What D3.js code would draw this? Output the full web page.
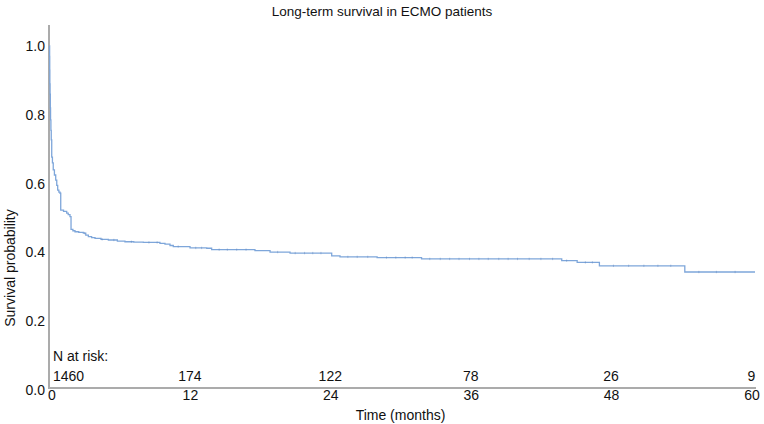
<!DOCTYPE html>
<html>
<head>
<meta charset="utf-8">
<script src="https://cdn.jsdelivr.net/npm/d3@7"></script>
<style>
  html, body { margin: 0; padding: 0; background: #fff; }
  svg text { font-family: "Liberation Sans", Arial, Helvetica, sans-serif; fill: #111; }
</style>
</head>
<body>
<svg id="chart" width="764" height="424"></svg>
<script>
// ---- Data ----
const times = [0, 0.01, 0.02, 0.03, 0.05, 0.07, 0.09, 0.12, 0.15, 0.19, 0.25, 0.32, 0.42, 0.53, 0.62, 0.70, 0.80, 0.90, 0.96, 1.2, 1.47, 1.6, 1.75, 1.84, 2.0, 2.18, 2.5, 2.89, 3.1, 3.32, 3.6, 3.89, 4.4, 5.03, 5.8, 6.45, 7.2, 8.02, 9.44, 9.87, 10.3, 10.58, 12.01, 13.44, 13.86, 17.56, 18.85, 20.56, 24.12, 24.83, 28.0, 31.8, 43.78, 45.1, 47.0, 54.3];
const survival = [1.0, 0.97, 0.93, 0.89, 0.86, 0.82, 0.785, 0.755, 0.727, 0.677, 0.66, 0.64, 0.625, 0.61, 0.595, 0.581, 0.575, 0.572, 0.523, 0.519, 0.514, 0.51, 0.504, 0.467, 0.463, 0.460, 0.458, 0.456, 0.45, 0.446, 0.443, 0.441, 0.438, 0.436, 0.433, 0.431, 0.43, 0.429, 0.426, 0.424, 0.42, 0.417, 0.413, 0.412, 0.408, 0.405, 0.401, 0.398, 0.390, 0.387, 0.385, 0.381, 0.376, 0.371, 0.361, 0.343];
const endTime = 60.3;
const censorTimes = [3.0, 4.5, 5.5, 7.0, 8.5, 9.2, 11.0, 12.5, 13.0, 14.5, 15.2, 16.0, 16.8, 19.5, 21.0, 21.8, 22.5, 23.2, 25.5, 26.3, 27.2, 28.8, 29.6, 30.4, 31.0, 32.5, 33.4, 34.2, 35.0, 35.9, 36.7, 37.5, 38.4, 39.2, 40.0, 41.0, 42.0, 43.0, 44.2, 45.8, 46.4, 48.2, 49.5, 50.8, 52.0, 53.1, 55.5, 57.0, 58.6];
const xTicks = [0, 12, 24, 36, 48, 60];
const yTicks = [0.0, 0.2, 0.4, 0.6, 0.8, 1.0];
const atRisk = [1460, 174, 122, 78, 26, 9];
const titleText = "Long-term survival in ECMO patients";
const xLabel = "Time (months)";
const yLabel = "Survival probability";

// ---- Layout ----
const svg = d3.select("#chart");
const x = d3.scaleLinear().domain([0, 60]).range([49.5, 751.5]);
const y = d3.scaleLinear().domain([0, 1]).range([390, 46]);
const axisColor = "#ababab";
const curveColor = "#7ea6da";

// Title
svg.append("text").attr("x", 382).attr("y", 11).attr("text-anchor", "middle")
  .attr("dominant-baseline", "central").style("font-size", "13.5px").text(titleText);

// Axes lines
const xAxisY = 388;
svg.append("line").attr("x1", 48).attr("x2", x(endTime) + 1).attr("y1", xAxisY).attr("y2", xAxisY)
  .attr("stroke", axisColor).attr("stroke-width", 2);
svg.append("line").attr("x1", 49).attr("x2", 49).attr("y1", 25).attr("y2", xAxisY + 1)
  .attr("stroke", axisColor).attr("stroke-width", 2);

// Y tick labels (via d3 axis, no tick lines)
const yAxis = d3.axisLeft(y).tickValues(yTicks).tickFormat(d3.format(".1f")).tickSize(0).tickPadding(0);
const gy = svg.append("g").attr("transform", "translate(45,0)").call(yAxis);
gy.select(".domain").remove();
gy.selectAll("text").style("font-size", "14px").attr("fill", "#111")
  .style("font-family", '"Liberation Sans", Arial, sans-serif');

// X tick labels
const xAxis = d3.axisBottom(x).tickValues(xTicks).tickFormat(d3.format("d")).tickSize(0).tickPadding(0);
const gx = svg.append("g").attr("transform", "translate(0,390)").call(xAxis);
gx.select(".domain").remove();
gx.selectAll("text").style("font-size", "14px").attr("fill", "#111")
  .style("font-family", '"Liberation Sans", Arial, sans-serif');
gx.selectAll(".tick").filter(d => d === 0).select("text").attr("dx", "2");

// Axis titles
svg.append("text").attr("x", (x(0) + x(60)) / 2).attr("y", 415).attr("text-anchor", "middle")
  .attr("dominant-baseline", "central").style("font-size", "14px").text(xLabel);
svg.append("text").attr("transform", "translate(10,268) rotate(-90)").attr("text-anchor", "middle")
  .attr("dominant-baseline", "central").style("font-size", "14px").text(yLabel);

// N at risk
svg.append("text").attr("x", 53).attr("y", 356).attr("dominant-baseline", "central")
  .style("font-size", "14px").text("N at risk:");
svg.selectAll("text.risk").data(xTicks).enter().append("text").attr("class", "risk")
  .attr("x", (d, i) => i === 0 ? 53 : x(d))
  .attr("y", 376).attr("dominant-baseline", "central")
  .attr("text-anchor", (d, i) => i === 0 ? "start" : "middle")
  .style("font-size", "14px").text((d, i) => atRisk[i]);

// KM curve
const pts = times.map((t, i) => [t, survival[i]]);
pts.push([endTime, survival[survival.length - 1]]);
const line = d3.line().x(d => x(d[0])).y(d => y(d[1])).curve(d3.curveStepAfter);
svg.append("path").datum(pts).attr("d", line).attr("fill", "none")
  .attr("stroke", curveColor).attr("stroke-width", 1.3);

// Censor marks
function survAt(t) {
  let s = survival[0];
  for (let i = 0; i < times.length; i++) { if (times[i] <= t) s = survival[i]; else break; }
  return s;
}
svg.selectAll("line.cens").data(censorTimes).enter().append("line").attr("class", "cens")
  .attr("x1", d => x(d)).attr("x2", d => x(d))
  .attr("y1", d => y(survAt(d)) - 1.2).attr("y2", d => y(survAt(d)) + 1.2)
  .attr("stroke", "#5a82bd").attr("stroke-width", 1).attr("opacity", 0.4);
</script>
</body>
</html>
